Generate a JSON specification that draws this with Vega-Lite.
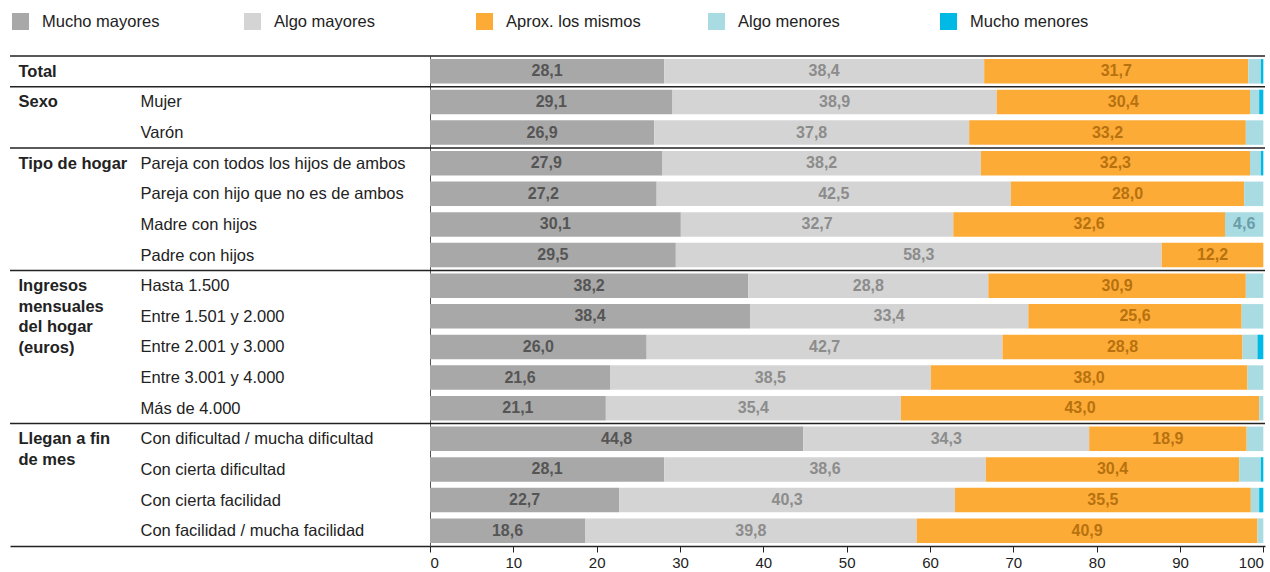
{
  "$schema": "https://vega.github.io/schema/vega-lite/v6.json",
  "width": 1255,
  "height": 490,
  "autosize": {"type": "none"},
  "padding": {"left": 10, "top": 56, "right": 5, "bottom": 26},
  "background": "white",
  "config": {
    "font": "Liberation Sans",
    "view": {"stroke": null},
    "locale": {"number": {"decimal": ",", "thousands": ".", "grouping": [3], "currency": ["", " €"]}},
    "legend": {
      "orient": "top", "direction": "horizontal", "title": null,
      "symbolType": "square", "symbolSize": 289, "symbolStrokeWidth": 0, "symbolOpacity": 1,
      "labelFont": "Liberation Sans", "labelFontSize": 16.5, "labelColor": "#222222", "labelOffset": 13,
      "columns": 5, "gridAlign": "all", "columnPadding": 67, "offset": 24.5, "padding": 2
    }
  },
  "datasets": {
    "respuestas": [
      {"categoria": "Total", "respuesta": "Mucho mayores", "valor": 28.1},
      {"categoria": "Total", "respuesta": "Algo mayores", "valor": 38.4},
      {"categoria": "Total", "respuesta": "Aprox. los mismos", "valor": 31.7},
      {"categoria": "Total", "respuesta": "Algo menores", "valor": 1.5},
      {"categoria": "Total", "respuesta": "Mucho menores", "valor": 0.3},
      {"categoria": "Mujer", "respuesta": "Mucho mayores", "valor": 29.1},
      {"categoria": "Mujer", "respuesta": "Algo mayores", "valor": 38.9},
      {"categoria": "Mujer", "respuesta": "Aprox. los mismos", "valor": 30.4},
      {"categoria": "Mujer", "respuesta": "Algo menores", "valor": 1.1},
      {"categoria": "Mujer", "respuesta": "Mucho menores", "valor": 0.5},
      {"categoria": "Varón", "respuesta": "Mucho mayores", "valor": 26.9},
      {"categoria": "Varón", "respuesta": "Algo mayores", "valor": 37.8},
      {"categoria": "Varón", "respuesta": "Aprox. los mismos", "valor": 33.2},
      {"categoria": "Varón", "respuesta": "Algo menores", "valor": 2.1},
      {"categoria": "Pareja con todos los hijos de ambos", "respuesta": "Mucho mayores", "valor": 27.9},
      {"categoria": "Pareja con todos los hijos de ambos", "respuesta": "Algo mayores", "valor": 38.2},
      {"categoria": "Pareja con todos los hijos de ambos", "respuesta": "Aprox. los mismos", "valor": 32.3},
      {"categoria": "Pareja con todos los hijos de ambos", "respuesta": "Algo menores", "valor": 1.3},
      {"categoria": "Pareja con todos los hijos de ambos", "respuesta": "Mucho menores", "valor": 0.3},
      {"categoria": "Pareja con hijo que no es de ambos", "respuesta": "Mucho mayores", "valor": 27.2},
      {"categoria": "Pareja con hijo que no es de ambos", "respuesta": "Algo mayores", "valor": 42.5},
      {"categoria": "Pareja con hijo que no es de ambos", "respuesta": "Aprox. los mismos", "valor": 28.0},
      {"categoria": "Pareja con hijo que no es de ambos", "respuesta": "Algo menores", "valor": 2.3},
      {"categoria": "Madre con hijos", "respuesta": "Mucho mayores", "valor": 30.1},
      {"categoria": "Madre con hijos", "respuesta": "Algo mayores", "valor": 32.7},
      {"categoria": "Madre con hijos", "respuesta": "Aprox. los mismos", "valor": 32.6},
      {"categoria": "Madre con hijos", "respuesta": "Algo menores", "valor": 4.6},
      {"categoria": "Padre con hijos", "respuesta": "Mucho mayores", "valor": 29.5},
      {"categoria": "Padre con hijos", "respuesta": "Algo mayores", "valor": 58.3},
      {"categoria": "Padre con hijos", "respuesta": "Aprox. los mismos", "valor": 12.2},
      {"categoria": "Hasta 1.500", "respuesta": "Mucho mayores", "valor": 38.2},
      {"categoria": "Hasta 1.500", "respuesta": "Algo mayores", "valor": 28.8},
      {"categoria": "Hasta 1.500", "respuesta": "Aprox. los mismos", "valor": 30.9},
      {"categoria": "Hasta 1.500", "respuesta": "Algo menores", "valor": 2.1},
      {"categoria": "Entre 1.501 y 2.000", "respuesta": "Mucho mayores", "valor": 38.4},
      {"categoria": "Entre 1.501 y 2.000", "respuesta": "Algo mayores", "valor": 33.4},
      {"categoria": "Entre 1.501 y 2.000", "respuesta": "Aprox. los mismos", "valor": 25.6},
      {"categoria": "Entre 1.501 y 2.000", "respuesta": "Algo menores", "valor": 2.6},
      {"categoria": "Entre 2.001 y 3.000", "respuesta": "Mucho mayores", "valor": 26.0},
      {"categoria": "Entre 2.001 y 3.000", "respuesta": "Algo mayores", "valor": 42.7},
      {"categoria": "Entre 2.001 y 3.000", "respuesta": "Aprox. los mismos", "valor": 28.8},
      {"categoria": "Entre 2.001 y 3.000", "respuesta": "Algo menores", "valor": 1.8},
      {"categoria": "Entre 2.001 y 3.000", "respuesta": "Mucho menores", "valor": 0.7},
      {"categoria": "Entre 3.001 y 4.000", "respuesta": "Mucho mayores", "valor": 21.6},
      {"categoria": "Entre 3.001 y 4.000", "respuesta": "Algo mayores", "valor": 38.5},
      {"categoria": "Entre 3.001 y 4.000", "respuesta": "Aprox. los mismos", "valor": 38.0},
      {"categoria": "Entre 3.001 y 4.000", "respuesta": "Algo menores", "valor": 1.9},
      {"categoria": "Más de 4.000", "respuesta": "Mucho mayores", "valor": 21.1},
      {"categoria": "Más de 4.000", "respuesta": "Algo mayores", "valor": 35.4},
      {"categoria": "Más de 4.000", "respuesta": "Aprox. los mismos", "valor": 43.0},
      {"categoria": "Más de 4.000", "respuesta": "Algo menores", "valor": 0.5},
      {"categoria": "Con dificultad / mucha dificultad", "respuesta": "Mucho mayores", "valor": 44.8},
      {"categoria": "Con dificultad / mucha dificultad", "respuesta": "Algo mayores", "valor": 34.3},
      {"categoria": "Con dificultad / mucha dificultad", "respuesta": "Aprox. los mismos", "valor": 18.9},
      {"categoria": "Con dificultad / mucha dificultad", "respuesta": "Algo menores", "valor": 2.0},
      {"categoria": "Con cierta dificultad", "respuesta": "Mucho mayores", "valor": 28.1},
      {"categoria": "Con cierta dificultad", "respuesta": "Algo mayores", "valor": 38.6},
      {"categoria": "Con cierta dificultad", "respuesta": "Aprox. los mismos", "valor": 30.4},
      {"categoria": "Con cierta dificultad", "respuesta": "Algo menores", "valor": 2.6},
      {"categoria": "Con cierta dificultad", "respuesta": "Mucho menores", "valor": 0.3},
      {"categoria": "Con cierta facilidad", "respuesta": "Mucho mayores", "valor": 22.7},
      {"categoria": "Con cierta facilidad", "respuesta": "Algo mayores", "valor": 40.3},
      {"categoria": "Con cierta facilidad", "respuesta": "Aprox. los mismos", "valor": 35.5},
      {"categoria": "Con cierta facilidad", "respuesta": "Algo menores", "valor": 1.0},
      {"categoria": "Con cierta facilidad", "respuesta": "Mucho menores", "valor": 0.5},
      {"categoria": "Con facilidad / mucha facilidad", "respuesta": "Mucho mayores", "valor": 18.6},
      {"categoria": "Con facilidad / mucha facilidad", "respuesta": "Algo mayores", "valor": 39.8},
      {"categoria": "Con facilidad / mucha facilidad", "respuesta": "Aprox. los mismos", "valor": 40.9},
      {"categoria": "Con facilidad / mucha facilidad", "respuesta": "Algo menores", "valor": 0.7}
    ],
    "orden_respuestas": [
      {"respuesta": "Mucho mayores", "orden": 1},
      {"respuesta": "Algo mayores", "orden": 2},
      {"respuesta": "Aprox. los mismos", "orden": 3},
      {"respuesta": "Algo menores", "orden": 4},
      {"respuesta": "Mucho menores", "orden": 5}
    ],
    "grupos": [
      {"categoria": "Total"},
      {"categoria": "Mujer"},
      {"categoria": "Pareja con todos los hijos de ambos"},
      {"categoria": "Hasta 1.500"},
      {"categoria": "Con dificultad / mucha dificultad"}
    ]
  },
  "data": {"name": "respuestas"},
  "transform": [
    {"lookup": "respuesta", "from": {"data": {"name": "orden_respuestas"}, "key": "respuesta", "fields": ["orden"]}}
  ],
  "resolve": {"axis": {"y": "independent"}},
  "layer": [
    {
      "mark": {"type": "bar"},
      "encoding": {
        "y": {
          "field": "categoria", "type": "nominal",
          "scale": {
            "domain": ["Total", "Mujer", "Varón", "Pareja con todos los hijos de ambos", "Pareja con hijo que no es de ambos", "Madre con hijos", "Padre con hijos", "Hasta 1.500", "Entre 1.501 y 2.000", "Entre 2.001 y 3.000", "Entre 3.001 y 4.000", "Más de 4.000", "Con dificultad / mucha dificultad", "Con cierta dificultad", "Con cierta facilidad", "Con facilidad / mucha facilidad"],
            "paddingInner": 0.2, "paddingOuter": 0.1
          },
          "axis": {
            "orient": "left", "offset": -420, "title": null, "grid": false,
            "domain": true, "domainColor": "#555555", "domainWidth": 1,
            "ticks": false, "tickSize": 0,
            "labelAlign": "left", "labelPadding": 290, "labelBaseline": "alphabetic", "labelOffset": 5.5,
            "labelFont": "Liberation Sans", "labelFontSize": 16.5, "labelColor": "#222222", "labelLimit": 0, "labelOverlap": false,
            "labelExpr": "datum.value == 'Total' ? '' : datum.label"
          }
        },
        "x": {
          "field": "valor", "type": "quantitative", "stack": "zero",
          "scale": {"domain": [-50.4, 100.2], "nice": false, "zero": false},
          "axis": {
            "values": [0, 10, 20, 30, 40, 50, 60, 70, 80, 90, 100], "title": null, "grid": false,
            "domain": true, "domainColor": "#222222", "domainWidth": 1.5,
            "ticks": true, "tickColor": "#222222", "tickSize": 6, "tickWidth": 1,
            "labelFont": "Liberation Sans", "labelFontSize": 15, "labelColor": "#222222", "labelPadding": 3,
            "labelFlush": false,
            "labelAlign": {"condition": [{"test": "datum.value == 0", "value": "left"}, {"test": "datum.value == 100", "value": "right"}], "value": "center"}
          }
        },
        "color": {
          "field": "respuesta", "type": "nominal",
          "scale": {
            "domain": ["Mucho mayores", "Algo mayores", "Aprox. los mismos", "Algo menores", "Mucho menores"],
            "range": ["#a8a8a8", "#d4d4d4", "#fdab37", "#a9dbe3", "#00b9e4"]
          }
        },
        "order": {"field": "orden", "type": "quantitative", "sort": "ascending"}
      }
    },
    {
      "transform": [{"filter": "datum.valor >= 4"}],
      "mark": {"type": "text", "fontWeight": "bold", "fontSize": 16, "baseline": "middle", "font": "Liberation Sans"},
      "encoding": {
        "y": {
          "field": "categoria", "type": "nominal",
          "axis": {
            "orient": "left", "title": null, "grid": false, "domain": false, "ticks": false, "tickSize": 0,
            "labelAlign": "left", "labelPadding": -8, "labelBaseline": "alphabetic", "labelOffset": 5.5,
            "labelFont": "Liberation Sans", "labelFontSize": 16.5, "labelFontWeight": "bold", "labelColor": "#222222",
            "labelLineHeight": 20.5, "labelLimit": 0, "labelOverlap": false,
            "labelExpr": "datum.value == 'Total' ? 'Total' : datum.value == 'Mujer' ? 'Sexo' : datum.value == 'Pareja con todos los hijos de ambos' ? 'Tipo de hogar' : datum.value == 'Hasta 1.500' ? ['Ingresos', 'mensuales', 'del hogar', '(euros)'] : datum.value == 'Con dificultad / mucha dificultad' ? ['Llegan a fin', 'de mes'] : ''"
          }
        },
        "x": {"field": "valor", "type": "quantitative", "stack": "zero", "bandPosition": 0.5},
        "detail": {"field": "respuesta", "type": "nominal"},
        "order": {"field": "orden", "type": "quantitative", "sort": "ascending"},
        "color": {
          "condition": [
            {"test": "datum.respuesta == 'Mucho mayores'", "value": "#555555"},
            {"test": "datum.respuesta == 'Algo mayores'", "value": "#8c8c8c"},
            {"test": "datum.respuesta == 'Aprox. los mismos'", "value": "#b7720f"}
          ],
          "value": "#6b9ea7"
        },
        "text": {"field": "valor", "type": "quantitative", "format": ".1f"}
      }
    },
    {
      "data": {"name": "grupos"},
      "mark": {"type": "rule", "color": "#222222", "strokeWidth": 1.5},
      "encoding": {
        "y": {"field": "categoria", "type": "nominal", "bandPosition": -0.125, "axis": null}
      }
    }
  ]
}
